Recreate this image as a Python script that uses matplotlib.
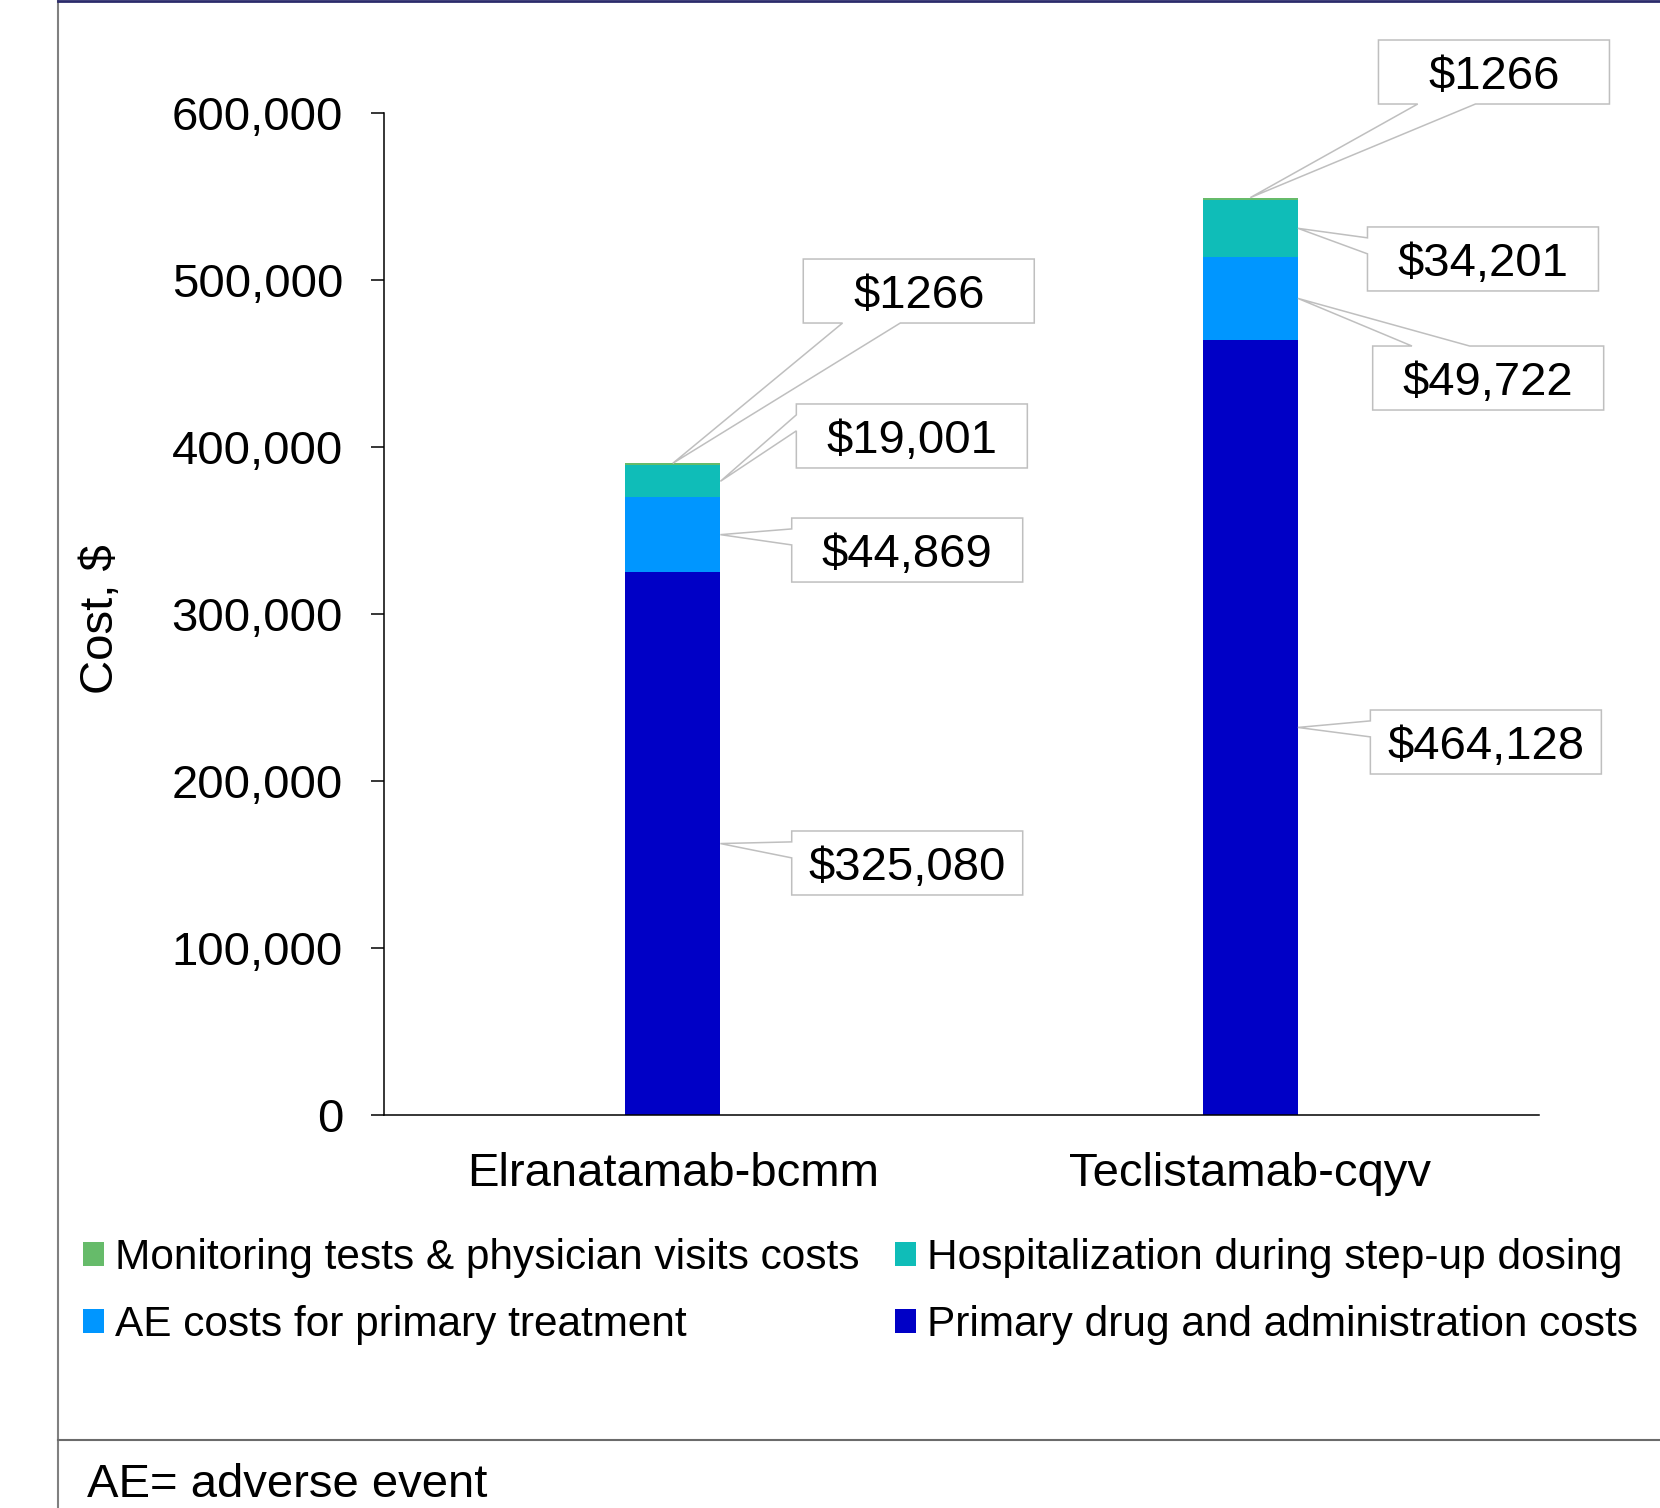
import matplotlib.pyplot as plt
from matplotlib.patches import Patch, Polygon
from matplotlib.lines import Line2D

plt.rcParams['font.family'] = ['Liberation Sans', 'DejaVu Sans']

categories = ['Elranatamab-bcmm', 'Teclistamab-cqyv']
primary = [325080, 464128]
ae = [44869, 49722]
hosp = [19001, 34201]
monitoring = [1266, 1266]

series_names = ['Primary drug and administration costs', 'AE costs for primary treatment',
                'Hospitalization during step-up dosing', 'Monitoring tests & physician visits costs']
colors = ['#0000C6', '#0096FF', '#0FBDB8', '#66BB6A']

labels = [['$325,080', '$44,869', '$19,001', '$1266'],
          ['$464,128', '$49,722', '$34,201', '$1266']]
# callout box centres (data coords)
label_x = [[0.406, 0.406, 0.414, 0.426], [1.408, 1.412, 1.403, 1.422]]
label_y = [[150900, 338300, 406600, 493400], [223350, 441300, 512600, 624550]]

fig = plt.figure(figsize=(16.6, 15.08), dpi=100)
ax = fig.add_axes([384 / 1660, 1 - 1115 / 1508, 1155 / 1660, 1002 / 1508])

x = list(range(len(categories)))
width = 0.165
series = [primary, ae, hosp, monitoring]
bottoms = [0, 0]
handles = {}
seg_mid = [[], []]
for vals, name, c in zip(series, series_names, colors):
    ax.bar(x, vals, width, bottom=bottoms, color=c, edgecolor='none')
    for i in x:
        seg_mid[i].append(bottoms[i] + vals[i] / 2)
    handles[name] = Patch(facecolor=c)
    bottoms = [b + v for b, v in zip(bottoms, vals)]

ax.set_xlim(-0.5, 1.5)
ax.set_ylim(0, 600000)
ax.set_yticks(range(0, 600001, 100000))
ax.set_yticklabels([f'{v:,}' for v in range(0, 600001, 100000)])
ax.set_xticks(x)
ax.set_xticklabels(categories)
ax.tick_params(axis='y', labelsize=34, length=9.5, width=1.1, pad=20)
ax.tick_params(axis='x', labelsize=34, length=0, pad=27)
for s in ['top', 'right']:
    ax.spines[s].set_visible(False)
for s in ['left', 'bottom']:
    ax.spines[s].set_linewidth(1.1)

fig.text(101 / 1660, 1 - 619 / 1508, 'Cost, $', rotation=90, ha='center', va='center', fontsize=34)

# data callouts
box_w, box_h = 231, 64
to_disp = ax.transData
to_data = ax.transData.inverted()
for i in x:
    for k in range(4):
        if k == 3:
            tx, ty = to_disp.transform((x[i], bottoms[i]))
        else:
            tx, ty = to_disp.transform((x[i] + width / 2, seg_mid[i][k]))
        cx, cy = to_disp.transform((label_x[i][k], label_y[i][k]))
        x0, x1 = cx - box_w / 2, cx + box_w / 2
        y0, y1 = cy - box_h / 2, cy + box_h / 2
        dx, dy = tx - cx, ty - cy
        a, b = 0.17, 0.42
        tl, tr, br, bl = (x0, y1), (x1, y1), (x1, y0), (x0, y0)
        if abs(dy) * box_w > abs(dx) * box_h:
            if dy > 0:
                pts = [tl, (x0 + a * box_w, y1), (tx, ty), (x0 + b * box_w, y1), tr, br, bl]
            else:
                pts = [tl, tr, br, (x0 + b * box_w, y0), (tx, ty), (x0 + a * box_w, y0), bl]
        else:
            if dx < 0:
                pts = [tl, tr, br, bl, (x0, y1 - b * box_h), (tx, ty), (x0, y1 - a * box_h)]
            else:
                pts = [tl, tr, (x1, y1 - a * box_h), (tx, ty), (x1, y1 - b * box_h), br, bl]
        pts = to_data.transform(pts)
        ax.add_patch(Polygon(pts, closed=True, facecolor='white', edgecolor='#BFBFBF',
                             linewidth=1.1, clip_on=False, zorder=4))
        ax.text(label_x[i][k], label_y[i][k], labels[i][k], ha='center', va='center_baseline',
                fontsize=34, zorder=5)

order = ['Monitoring tests & physician visits costs', 'AE costs for primary treatment',
         'Hospitalization during step-up dosing', 'Primary drug and administration costs']
fig.legend([handles[n] for n in order], order, ncol=2, loc='upper left',
           bbox_to_anchor=(83 / 1660, 1 - 1238 / 1508), frameon=False, fontsize=30.5,
           handlelength=0.5, handleheight=0.5, handletextpad=0.25, columnspacing=0.85,
           labelspacing=0.63, borderpad=0, borderaxespad=0)

# outer frame lines
fig.add_artist(Line2D([58 / 1660, 58 / 1660], [0, 1], color='#808080', lw=1.5))
fig.add_artist(Line2D([58 / 1660, 1], [1 - 1 / 1508, 1 - 1 / 1508], color='#2B2B6B', lw=2))
fig.add_artist(Line2D([58 / 1660, 1], [1 - 1440 / 1508, 1 - 1440 / 1508], color='#6B6B6B', lw=1.5))

fig.text(87 / 1660, 1 - 1497 / 1508, 'AE= adverse event', fontsize=34, va='baseline')

fig.savefig('out.png', dpi=100)
